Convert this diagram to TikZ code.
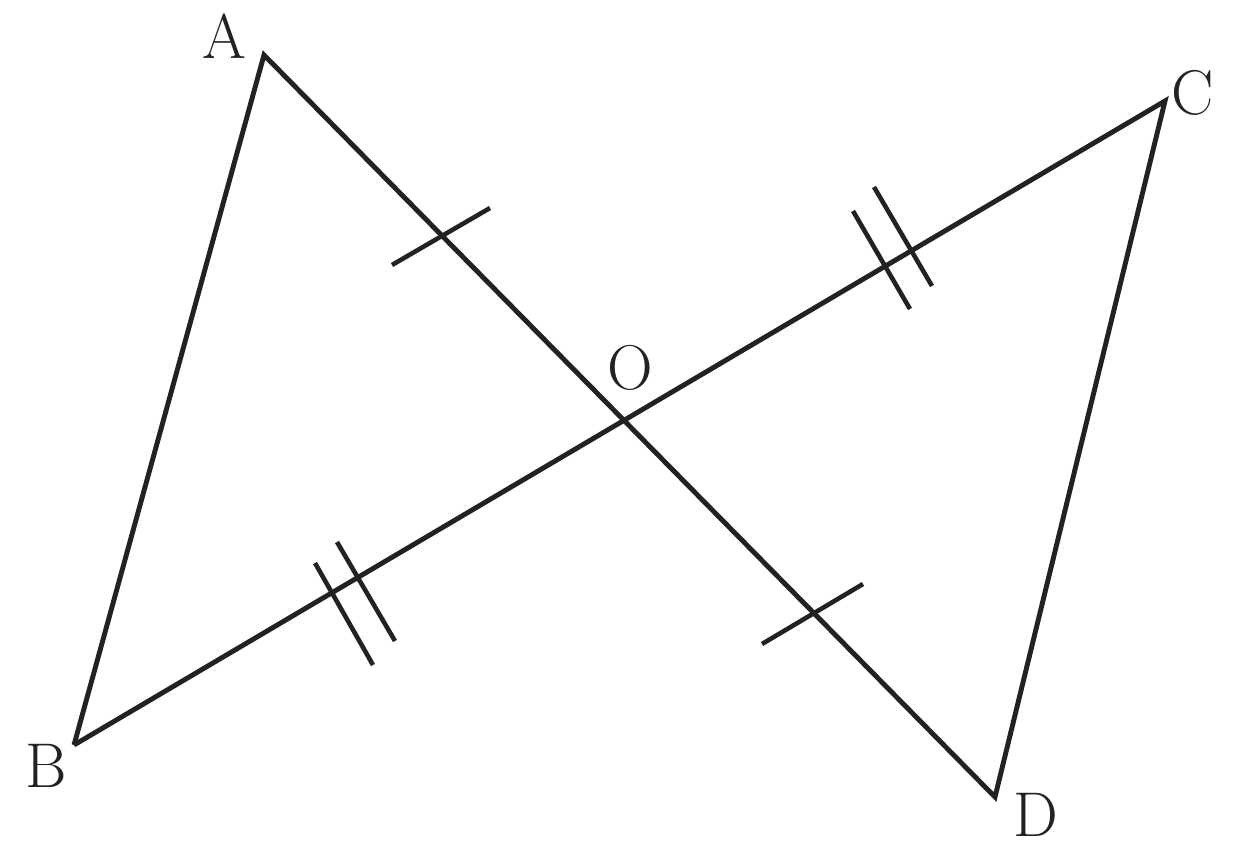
\documentclass[tikz,border=0pt]{standalone}
\usepackage{tikz}
\definecolor{ink}{HTML}{222222}
\tikzset{
  seg/.style={ink, line width=2.8pt, line join=miter},
  tick/.style={ink, line width=2.6pt},
  lbl/.style={ink, font=\fontsize{36}{40}\selectfont}
}
\begin{document}
\begin{tikzpicture}[x=0.02cm,y=-0.02cm]
\useasboundingbox (0,0) rectangle (1239,848);
% Points
\coordinate (A) at (264,55);
\coordinate (B) at (74,745);
\coordinate (C) at (1165,101);
\coordinate (D) at (995,797);
\coordinate (O) at (624,422);

% Triangles
\draw[seg] (B) -- (A) -- (D) -- (C) -- (B);

% Single ticks on AO and OD
\draw[tick] (392,265) -- (490,208);
\draw[tick] (762,644) -- (863,584);

% Double ticks on BO and OC
\foreach \xa/\ya/\xb/\yb in {315/563/373/665, 337/542/395/641,
                             853/211/910/309, 874/187/932/286}
  \draw[tick] (\xa,\ya) -- (\xb,\yb);

% Labels
\node[lbl] (la) at (224,36) {A};
\node[lbl] (lb) at (46,766) {B};
\node[lbl] (lc) at (1193,93) {C};
\node[lbl] (ld) at (1036,815) {D};
\node[lbl] (lo) at (630,368) {O};
\end{tikzpicture}
\end{document}
